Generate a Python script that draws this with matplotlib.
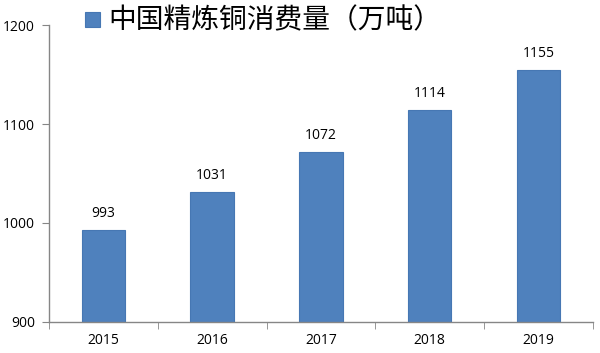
import numpy as np
import matplotlib.pyplot as plt
from matplotlib.patches import Rectangle

plt.rcParams['font.family'] = ['Noto Sans CJK SC', 'DejaVu Sans']

years = ['2015', '2016', '2017', '2018', '2019']
consumption = [993, 1031, 1072, 1114, 1155]
yticks = [900, 1000, 1100, 1200]
legend_label = '中国精炼铜消费量（万吨）'

bar_color = '#4F81BD'
axis_color = '#868686'

fig = plt.figure(figsize=(6, 3.53), dpi=100)
ax = fig.add_axes([0.0817, 0.088, 0.9063, 0.841])

x = np.arange(len(years))
ax.bar(x, consumption, width=0.4, bottom=0, color=bar_color,
       edgecolor='#4677B3', linewidth=0.8)
for xi, v in zip(x, consumption):
    ax.text(xi, v + 9, str(v), ha='center', va='bottom',
            fontsize=10, family=['Open Sans', 'DejaVu Sans'])

ax.set_xlim(-0.5, len(years) - 0.5)
ax.set_ylim(900, 1200)
ax.set_yticks(yticks)
ax.set_yticklabels([str(t) for t in yticks], family=['Open Sans', 'DejaVu Sans'],
                   fontsize=10)

# category labels centred, ticks at category boundaries
ax.set_xticks(x)
ax.set_xticklabels(years, family=['Open Sans', 'DejaVu Sans'], fontsize=10)
ax.tick_params(axis='x', length=0, pad=8)
ax.set_xticks(np.arange(len(years) + 1) - 0.5, minor=True)
ax.tick_params(axis='x', which='minor', length=5, color=axis_color, direction='out')
ax.tick_params(axis='y', length=5, color=axis_color, pad=5)

for s in ['top', 'right']:
    ax.spines[s].set_visible(False)
for s in ['left', 'bottom']:
    ax.spines[s].set_color(axis_color)
    ax.spines[s].set_linewidth(1.0)

# legend on top
fig.patches.append(Rectangle((85 / 600, 1 - 27 / 353), 15 / 600, 15 / 353,
                             transform=fig.transFigure, facecolor=bar_color,
                             edgecolor='#4677B3', linewidth=0.8))
fig.text(108 / 600, 1 - 20 / 353, legend_label, fontsize=20, va='center', ha='left',
         fontweight='light')

fig.savefig('out.png', dpi=100)
